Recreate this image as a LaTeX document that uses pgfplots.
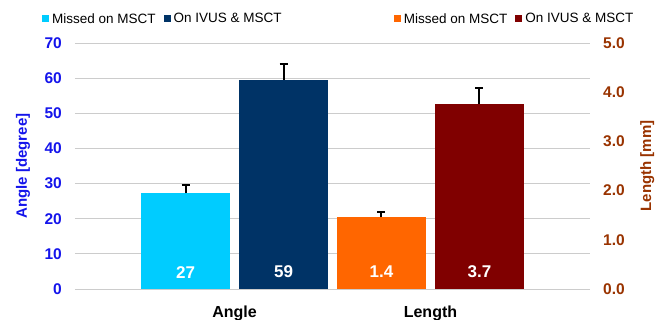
\documentclass[border=0pt]{standalone}
\usepackage{pgfplots}
\pgfplotsset{compat=1.18}
\usepackage{fontspec}
\setmainfont{Liberation Sans}
\definecolor{cbar}{HTML}{00CCFF}
\definecolor{nbar}{HTML}{003366}
\definecolor{obar}{HTML}{FF6600}
\definecolor{rbar}{HTML}{800000}
\definecolor{lblue}{RGB}{20,20,235}
\definecolor{rbrown}{HTML}{993300}
\definecolor{gridc}{HTML}{CCCCCC}
\pgfplotsset{
  common/.style={
    scale only axis, width=515bp, height=246bp,
    at={(0,0)}, anchor=south west,
    xmin=-1.128, xmax=4.128,
    ymin=0,
    major tick length=0pt,
    axis line style={draw=none},
    legend columns=2,
    legend image code/.code={\fill[##1] (0bp,-3.5bp) rectangle (7bp,3.5bp);},
    legend style={draw=none, fill=none, inner sep=0pt, outer sep=0pt, anchor=west,
      font=\fontsize{13.5bp}{15bp}\selectfont,
      nodes={inner xsep=3bp, inner ysep=0pt},
      /tikz/every even column/.append style={column sep=5bp}},
  },
  ebar/.style={error bars/.cd, y dir=plus, y explicit,
      error bar style={line width=2bp, draw=black},
      error mark=-,
      error mark options={line width=2bp, mark size=4bp, draw=black, rotate=90}},
}
\begin{document}
\begin{tikzpicture}
\useasboundingbox (-75bp,-31bp) rectangle (593bp,289bp);
\begin{axis}[common,
  ymax=70, ytick={0,10,...,70},
  ymajorgrids, grid style={gridc, line width=0.8bp},
  xtick={0.5,2.5}, xticklabels={Angle,Length},
  xticklabel style={font=\fontsize{16bp}{18bp}\selectfont\bfseries, anchor=north, inner sep=0pt, yshift=-17bp},
  yticklabel style={font=\fontsize{15.5bp}{18bp}\selectfont\bfseries, text=lblue, anchor=east, inner sep=0pt, xshift=-13bp},
  /pgf/number format/assume math mode=true,
  ylabel={Angle [degree]},
  ylabel style={font=\fontsize{15bp}{18bp}\selectfont\bfseries, text=lblue, at={(axis description cs:-0.101,0.5)}, anchor=center, rotate=0},
  legend style={at={(axis description cs:-0.064,1.0976)}},
]
\addplot[ybar, bar width=0.908, bar shift=0pt, fill=cbar, draw=none, ebar] coordinates {(0,27.3) +- (0,2.4)};
\addlegendentry{Missed on MSCT}
\addplot[ybar, bar width=0.908, bar shift=0pt, fill=nbar, draw=none, ebar] coordinates {(1,59.5) +- (0,4.6)};
\addlegendentry{On IVUS \& MSCT}
\addplot[forget plot, draw=none, mark=none, nodes near coords, point meta=explicit symbolic,
  every node near coord/.style={font=\fontsize{17bp}{19bp}\selectfont\bfseries, text=white, anchor=center}]
  coordinates {(0,4.8) [27] (1,4.8) [59]};
\end{axis}
\begin{axis}[common,
  ymax=5, ytick={0,1,...,5},
  axis x line=none,
  axis y line*=right,
  yticklabel style={font=\fontsize{15.5bp}{18bp}\selectfont\bfseries, text=rbrown, anchor=west, inner sep=0pt, xshift=13bp},
  /pgf/number format/.cd, fixed, fixed zerofill, precision=1, assume math mode=true, /pgfplots/.cd,
  ylabel={Length [mm]},
  ylabel style={font=\fontsize{15bp}{18bp}\selectfont\bfseries, text=rbrown, at={(axis description cs:1.111,0.5)}, anchor=center},
  legend style={at={(axis description cs:0.619,1.0976)}},
]
\addplot[ybar, bar width=0.908, bar shift=0pt, fill=obar, draw=none, ebar] coordinates {(2,1.46) +- (0,0.1)};
\addlegendentry{Missed on MSCT}
\addplot[ybar, bar width=0.908, bar shift=0pt, fill=rbar, draw=none, ebar] coordinates {(3,3.76) +- (0,0.33)};
\addlegendentry{On IVUS \& MSCT}
\addplot[forget plot, draw=none, mark=none, nodes near coords, point meta=explicit symbolic,
  every node near coord/.style={font=\fontsize{17bp}{19bp}\selectfont\bfseries, text=white, anchor=center}]
  coordinates {(2,0.345) [1.4] (3,0.345) [3.7]};
\end{axis}
\end{tikzpicture}
\end{document}
